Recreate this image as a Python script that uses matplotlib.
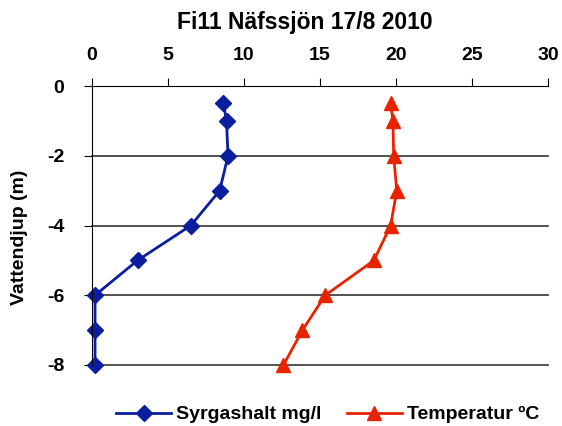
import matplotlib.pyplot as plt

plt.rcParams["font.family"] = ["Liberation Sans", "DejaVu Sans"]
plt.rcParams["axes.unicode_minus"] = False

depth = [-0.5, -1, -2, -3, -4, -5, -6, -7, -8]
oxygen = [8.65, 8.85, 8.95, 8.4, 6.5, 3.0, 0.2, 0.2, 0.2]
temperature = [19.65, 19.8, 19.85, 20.05, 19.65, 18.55, 15.35, 13.85, 12.6]

x_ticks = [0, 5, 10, 15, 20, 25, 30]
y_ticks = [0, -2, -4, -6, -8]

fig = plt.figure(figsize=(5.62, 4.26), dpi=100)
ax = fig.add_axes([0.1637, 0.1432, 0.8113, 0.6548])

# gridlines drawn by hand so the one at -8 shows as well
for y in y_ticks[1:]:
    ax.axhline(y, color="#333333", lw=1.2, zorder=0, clip_on=False)

ax.plot(oxygen, depth, color="#0A1E9E", lw=2, marker="D", ms=8.5,
        label="Syrgashalt mg/l", clip_on=False)
ax.plot(temperature, depth, color="#E82300", lw=2, marker="^", ms=10.5,
        label="Temperatur ºC", clip_on=False)

ax.set_xlim(0, 30)
ax.set_ylim(-8, 0)
ax.set_xticks(x_ticks)
ax.set_yticks(y_ticks)
ax.xaxis.tick_top()
ax.tick_params(axis="both", labelsize=14, direction="out", length=6, width=0.8)
ax.tick_params(axis="x", pad=10)
ax.tick_params(axis="y", pad=14)
for lab in ax.get_xticklabels() + ax.get_yticklabels():
    lab.set_fontweight("bold")
ax.spines["right"].set_visible(False)
ax.spines["bottom"].set_visible(False)

fig.text(20 / 562, 1 - 237 / 426, "Vattendjup (m)", fontsize=14,
         fontweight="bold", rotation=90, ha="center", va="center")
fig.text(0.543, 0.948, "Fi11 Näfssjön 17/8 2010", fontsize=16.5,
         fontweight="bold", ha="center", va="center")

fig.legend(loc="lower center", bbox_to_anchor=(0.583, -0.035), ncol=2,
           frameon=False, prop={"size": 14, "weight": "bold"},
           handlelength=2.8, handletextpad=0.25, columnspacing=1.35)

fig.savefig("out.png", dpi=100)
